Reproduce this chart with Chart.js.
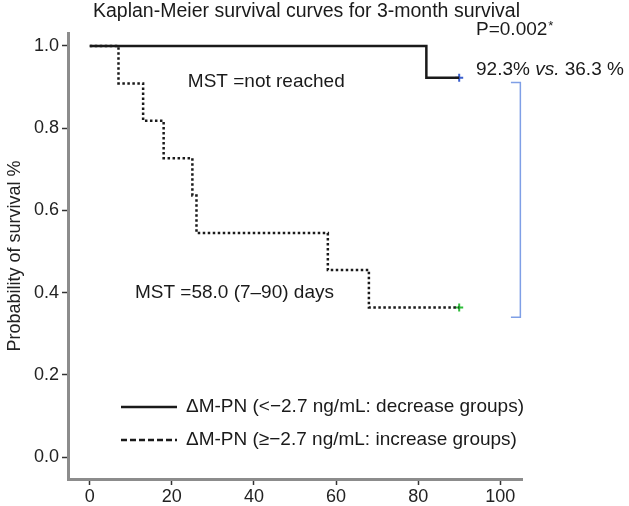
<!DOCTYPE html>
<html>
<head>
<meta charset="utf-8">
<script src="https://cdn.jsdelivr.net/npm/chart.js@4.4.1/dist/chart.umd.min.js"></script>
<style>
  html, body { margin: 0; padding: 0; background: #fff; }
</style>
</head>
<body>
<canvas id="km" width="629" height="506"></canvas>
<script>
      /* ========= Data ========= */
      const decTimes = [0, 82, 90];
      const decSurv = [1, 0.923, 0.923];
      const incTimes = [0, 7, 13, 18, 25, 26, 58, 68, 90];
      const incSurv = [1, 0.909, 0.818, 0.727, 0.636, 0.545, 0.455, 0.364, 0.364];
      const censorTimes = [90, 90];
      const censorSurv = [0.923, 0.364];
      const bracketX = [102.6, 104.9, 104.9, 102.6];
      const bracketY = [0.911, 0.911, 0.34, 0.34];
      const xTicks = [0, 20, 40, 60, 80, 100];
      const yTicks = [0, 0.2, 0.4, 0.6, 0.8, 1.0];
      const seriesLabels = ["ΔM-PN (<−2.7 ng/mL: decrease groups)", "ΔM-PN (≥−2.7 ng/mL: increase groups)"];

      const FONT = '"Liberation Sans", Arial, Helvetica, sans-serif';
      Chart.defaults.font.family = FONT;
      Chart.defaults.color = "#222";

      function toPts(xs, ys) { return xs.map((x, i) => ({ x: x, y: ys[i] })); }

      /* ========= Text + legend drawn on top ========= */
      const notesPlugin = {
        id: "notes",
        afterDraw(chart) {
          const { ctx, scales: { x, y } } = chart;
          ctx.save();
          ctx.fillStyle = "#1a1a1a";
          ctx.textBaseline = "middle";
          ctx.textAlign = "left";

          ctx.font = "19.5px " + FONT;
          ctx.fillText("Kaplan-Meier survival curves for 3-month survival", 93, 12);

          ctx.font = "19px " + FONT;
          ctx.fillText("MST =not reached", x.getPixelForValue(23.9), y.getPixelForValue(0.912));
          ctx.fillText("MST =58.0 (7–90) days", x.getPixelForValue(11), y.getPixelForValue(0.399));

          // P value with raised asterisk
          const pX = x.getPixelForValue(94.1), pY = y.getPixelForValue(1.039);
          ctx.fillText("P=0.002", pX, pY);
          const pW = ctx.measureText("P=0.002").width;
          ctx.font = "13px " + FONT;
          ctx.fillText("*", pX + pW + 1, pY - 4);

          // 92.3% vs. 36.3 %  (vs. in italics)
          let px = x.getPixelForValue(94.1);
          const py = y.getPixelForValue(0.942);
          const parts = [["92.3% ", ""], ["vs.", "italic "], [" 36.3 %", ""]];
          parts.forEach(([t, st]) => {
            ctx.font = st + "19px " + FONT;
            ctx.fillText(t, px, py);
            px += ctx.measureText(t).width;
          });

          // legend
          ctx.font = "19px " + FONT;
          const rows = [407, 440];
          chart.data.datasets.slice(0, 2).forEach((ds, i) => {
            ctx.strokeStyle = ds.borderColor;
            ctx.lineWidth = 2.5;
            ctx.setLineDash(i === 0 ? [] : [6, 3]);
            ctx.beginPath();
            ctx.moveTo(121, rows[i]);
            ctx.lineTo(177, rows[i]);
            ctx.stroke();
            ctx.setLineDash([]);
            ctx.fillText(seriesLabels[i], 186, rows[i]);
          });
          ctx.restore();
        }
      };

      /* ========= Chart ========= */
      const kmChart = new Chart(document.getElementById("km"), {
        type: "line",
        data: {
          datasets: [
            {
              label: seriesLabels[0],
              data: toPts(decTimes, decSurv),
              stepped: true,
              borderColor: "#1a1a1a",
              borderWidth: 2.5,
              pointRadius: 0,
              fill: false
            },
            {
              label: seriesLabels[1],
              data: toPts(incTimes, incSurv),
              stepped: true,
              borderColor: "#1a1a1a",
              borderWidth: 2.5,
              borderDash: [2.5, 2.5],
              pointRadius: 0,
              fill: false
            },
            {
              label: "censored (decrease)",
              data: [{ x: censorTimes[0], y: censorSurv[0] }],
              showLine: false,
              pointStyle: "cross",
              pointRadius: 4,
              borderColor: "#3a5fcd",
              borderWidth: 2
            },
            {
              label: "censored (increase)",
              data: [{ x: censorTimes[1], y: censorSurv[1] }],
              showLine: false,
              pointStyle: "cross",
              pointRadius: 4,
              borderColor: "#2ebd3a",
              borderWidth: 2
            },
            {
              label: "bracket",
              data: toPts(bracketX, bracketY),
              borderColor: "#7f9fe6",
              borderWidth: 1.5,
              pointRadius: 0,
              fill: false,
              clip: false
            }
          ]
        },
        options: {
          responsive: false,
          animation: false,
          devicePixelRatio: 1,
          layout: { padding: { left: 0, top: 33, right: 107, bottom: 0 } },
          plugins: { legend: { display: false }, tooltip: { enabled: false }, title: { display: false } },
          scales: {
            x: {
              type: "linear",
              min: -5.3,
              max: 105.3,
              afterBuildTicks: (s) => { s.ticks = xTicks.map((v) => ({ value: v })); },
              afterFit: (s) => { s.height = 27; },
              ticks: { font: { size: 18 }, color: "#222", padding: 1, maxRotation: 0 },
              grid: { drawOnChartArea: false, tickLength: 6, tickColor: "#333", tickWidth: 1.5 },
              border: { color: "#8c8c8c", width: 3 }
            },
            y: {
              min: -0.0535,
              max: 1.0316,
              afterBuildTicks: (s) => { s.ticks = yTicks.map((v) => ({ value: v })); },
              afterFit: (s) => { s.width = 68; },
              ticks: { font: { size: 18 }, color: "#222", padding: 3, callback: (v) => v.toFixed(1) },
              grid: { drawOnChartArea: false, tickLength: 6, tickColor: "#333", tickWidth: 1.5 },
              border: { color: "#8c8c8c", width: 3 },
              title: { display: true, text: "Probability of survival %", font: { size: 18 }, color: "#222" }
            }
          }
        },
        plugins: [notesPlugin]
      });
</script>
</body>
</html>
